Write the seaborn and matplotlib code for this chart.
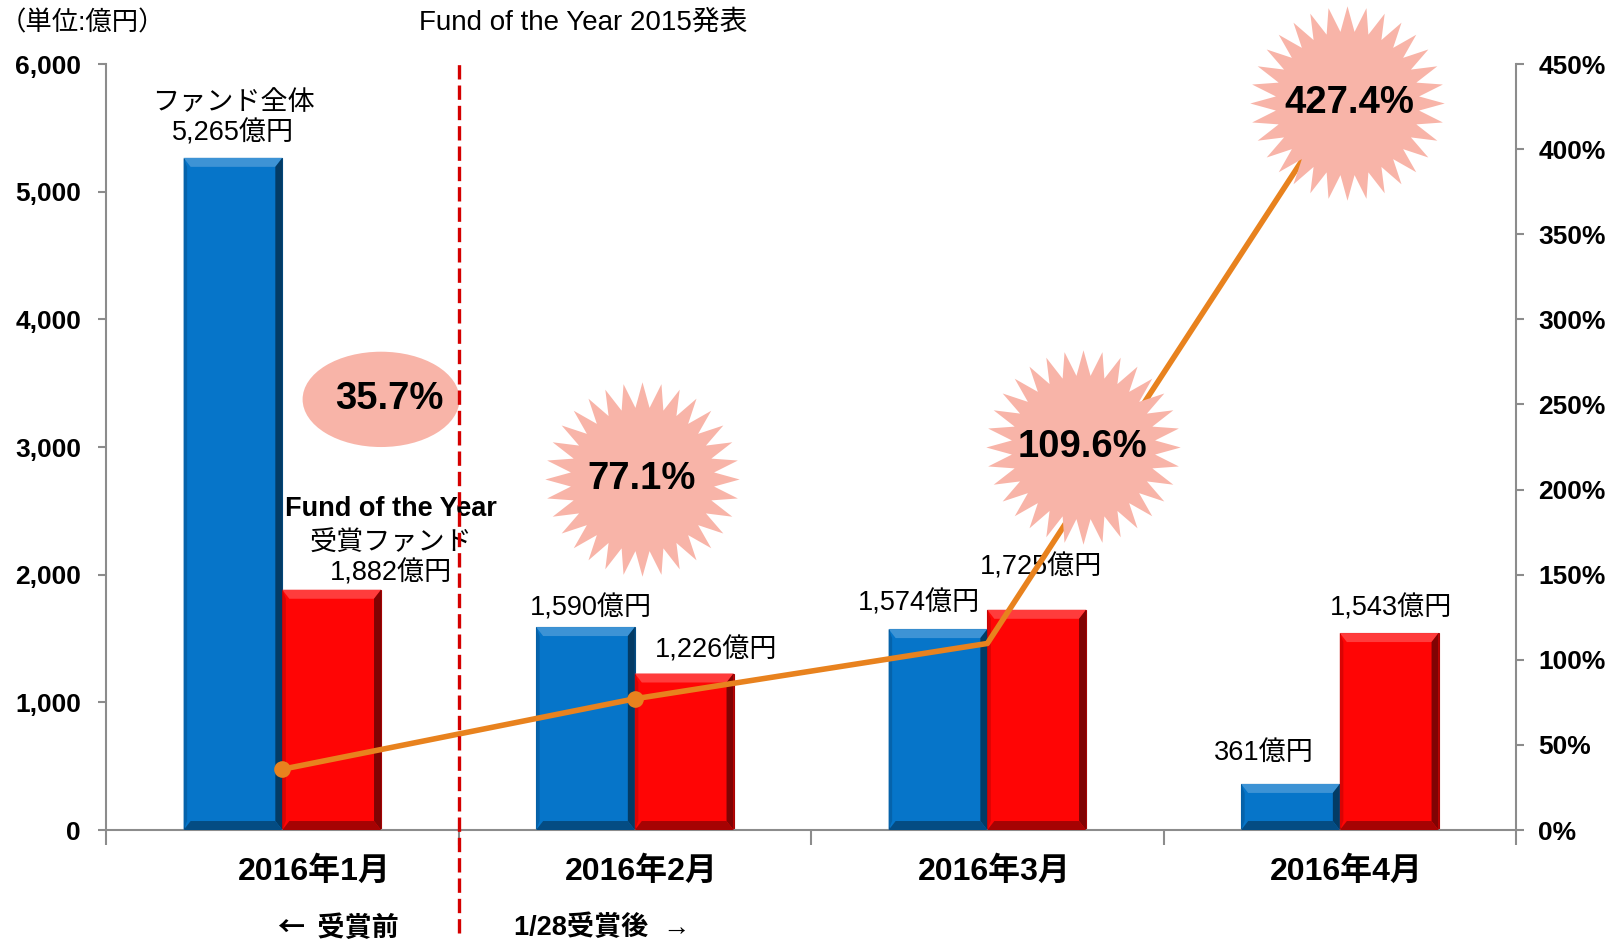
import numpy as np
import pandas as pd
import matplotlib
matplotlib.use('Agg')
import matplotlib.pyplot as plt
from matplotlib.patches import Ellipse, Polygon
from matplotlib.path import Path
from matplotlib.colors import to_rgb
from matplotlib.transforms import ScaledTranslation
import seaborn as sns

# data
months = ['2016年1月', '2016年2月', '2016年3月', '2016年4月']
series_names = ['ファンド全体', 'Fund of the Year受賞ファンド']
total_fund = [5265, 1590, 1574, 361]
award_fund = [1882, 1226, 1725, 1543]
ratio_pct = [35.7, 77.1, 109.6, 427.4]
left_ticks = [0, 1000, 2000, 3000, 4000, 5000, 6000]
right_ticks = [0, 50, 100, 150, 200, 250, 300, 350, 400, 450]

# layout (label offsets in points, badge centres in line-axis coords)
total_dx = [0, 4, -14, -19]
total_dy = [8, 4, 9, 13]
award_dx = [43, 23, 3, 1]
award_dy = [2, 7, 21, 8]
badge_pos = [(0.28, 253), (1.02, 206), (2.27, 225), (3.02, 427)]
badge_text_dx = [6, 0, 0, 2]
month_label_dx = [23, 5, 5, 5]

BLUE = '#0675C9'
RED = '#FF0505'
ORANGE = '#E8821E'
PINK = '#F8B4A8'
GRAY = '#8C8C8C'

sns.set_style('white')
plt.rcParams['font.family'] = ['Liberation Sans', 'Noto Sans CJK JP']
plt.rcParams['text.color'] = 'black'

df = pd.DataFrame({
    'month': months * 2,
    'series': [series_names[0]] * len(months) + [series_names[1]] * len(months),
    'value': total_fund + award_fund,
})

fig = plt.figure(figsize=(16.17, 9.43), dpi=100)
ax = fig.add_axes([0.0656, 0.1198, 0.872, 0.8123])

sns.barplot(data=df, x='month', y='value', hue='series', palette=[BLUE, RED],
            width=0.56, saturation=1, legend=False, ax=ax)
ax.set_xlim(-0.5, len(months) - 0.5)
ax.set_ylim(0, 6000)
bars = list(ax.patches)


def shade(c, amt):
    r = np.array(to_rgb(c))
    if amt > 0:
        return tuple(r + (1 - r) * amt)
    return tuple(r * (1 + amt))


# bevel look on the bars
px_x = (ax.get_xlim()[1] - ax.get_xlim()[0]) / ax.bbox.width
px_y = (ax.get_ylim()[1] - ax.get_ylim()[0]) / ax.bbox.height
bx, by = 7 * px_x, 9 * px_y
for p in bars:
    x0, w, h = p.get_x(), p.get_width(), p.get_height()
    fc = p.get_facecolor()
    p.set_edgecolor(shade(fc, -0.35))
    p.set_linewidth(0.8)
    ax.add_patch(Polygon([(x0, h), (x0 + w, h), (x0 + w - bx, h - by), (x0 + bx, h - by)],
                         closed=True, color=shade(fc, 0.22), lw=0, zorder=3))
    ax.add_patch(Polygon([(x0 + w, h), (x0 + w, 0), (x0 + w - bx, by), (x0 + w - bx, h - by)],
                         closed=True, color=shade(fc, -0.5), lw=0, zorder=3))
    ax.add_patch(Polygon([(x0, 0), (x0 + w, 0), (x0 + w - bx, by), (x0 + bx, by)],
                         closed=True, color=shade(fc, -0.35), lw=0, zorder=3))
    ax.add_patch(Polygon([(x0, h), (x0, 0), (x0 + bx * 0.5, by), (x0 + bx * 0.5, h - by)],
                         closed=True, color=shade(fc, -0.15), lw=0, zorder=3))

# value labels
n = len(months)
for i in range(n):
    pb, pr = bars[i], bars[n + i]
    txt = f'{total_fund[i]:,}億円'
    if i == 0:
        txt = 'ファンド全体\n' + txt
    ax.annotate(txt, (pb.get_x() + pb.get_width() / 2, total_fund[i]),
                xytext=(total_dx[i], total_dy[i]), textcoords='offset points',
                ha='center', va='bottom', fontsize=19.5, linespacing=1.2, zorder=5)
    txt = f'{award_fund[i]:,}億円'
    if i == 0:
        txt = '受賞ファンド\n' + txt
    ax.annotate(txt, (pr.get_x() + pr.get_width() / 2, award_fund[i]),
                xytext=(award_dx[i], award_dy[i]), textcoords='offset points',
                ha='center', va='bottom', fontsize=19.5, linespacing=1.2, zorder=5)
    if i == 0:
        ax.annotate('Fund of the Year', (pr.get_x() + pr.get_width() / 2, award_fund[i]),
                    xytext=(award_dx[i], award_dy[i] + 47), textcoords='offset points',
                    ha='center', va='bottom', fontsize=19.5, fontweight='bold', zorder=5)

# ratio line on the right axis
ax2 = ax.twinx()
sns.lineplot(x=np.arange(n), y=ratio_pct, color=ORANGE, lw=4, marker='o',
             markersize=12, markeredgewidth=0, markevery=[0, 1], ax=ax2, zorder=2)
ax2.set_ylim(0, 450)
ax2.set_xlim(-0.5, n - 0.5)


def star_path(points=32, inner=0.74):
    ang = np.linspace(0, 2 * np.pi, 2 * points, endpoint=False) + np.pi / 2
    r = np.where(np.arange(2 * points) % 2 == 0, 1.0, inner)
    verts = np.column_stack([r * np.cos(ang), r * np.sin(ang)])
    verts = np.vstack([verts, verts[:1]])
    codes = [Path.MOVETO] + [Path.LINETO] * (2 * points - 1) + [Path.CLOSEPOLY]
    return Path(verts, codes)


star = star_path()
for k, (bx_, by_) in enumerate(badge_pos):
    if k == 0:
        ax2.add_patch(Ellipse((bx_, by_), width=0.445, height=56, color=PINK, lw=0, zorder=3))
    else:
        ax2.scatter([bx_], [by_], marker=star, s=140 ** 2, color=PINK, linewidths=0,
                    zorder=3, clip_on=False)
    ax2.annotate(f'{ratio_pct[k]}%', (bx_, by_), xytext=(badge_text_dx[k], 0),
                 textcoords='offset points', ha='center', va='center',
                 fontsize=27.5, fontweight='bold', zorder=4)

# dashed separator (award announcement)
ax2.axvline(0.5, ymin=-0.134, ymax=1.005, color='#D40000', lw=2.4,
            ls=(0, (4.3, 1.8)), clip_on=False, zorder=6)

# axes styling
for a in (ax, ax2):
    a.spines['top'].set_visible(False)
    for s in ('left', 'right', 'bottom'):
        a.spines[s].set_color(GRAY)
        a.spines[s].set_linewidth(1.5)
ax.spines['right'].set_visible(False)
ax2.spines['left'].set_visible(False)
ax2.spines['bottom'].set_visible(False)

ax.set_yticks(left_ticks, [f'{v:,}' for v in left_ticks], fontsize=19, fontweight='bold')
ax.tick_params(axis='y', left=True, direction='out', length=6, width=1.5, color=GRAY,
               labelcolor='black', pad=12)
ax2.set_yticks(right_ticks, [f'{v}%' for v in right_ticks], fontsize=19, fontweight='bold')
ax2.tick_params(axis='y', right=True, direction='out', length=6, width=1.5, color=GRAY,
                labelcolor='black', pad=10)

ax.set_xticks(np.arange(n), months, fontsize=23, fontweight='bold')
ax.set_xticks(np.arange(n + 1) - 0.5, minor=True)
ax.tick_params(axis='x', which='major', bottom=True, length=0, pad=19, labelcolor='black')
ax.tick_params(axis='x', which='minor', bottom=True, direction='out', length=11,
               width=1.5, color=GRAY)
ax.set_xlabel('')
ax.set_ylabel('')
ax2.set_ylabel('')
ax.set_xlim(-0.5, n - 0.5)
for lbl, dx in zip(ax.get_xticklabels(), month_label_dx):
    lbl.set_transform(lbl.get_transform() + ScaledTranslation(dx / 72, 0, fig.dpi_scale_trans))

# extra text
fig.text(0 / 1617, 1 - 23 / 943, '（単位:億円）', ha='left', va='center', fontsize=19)
fig.text(583 / 1617, 1 - 23 / 943, 'Fund of the Year 2015発表', ha='center', va='center', fontsize=20)
fig.text(338 / 1617, 1 - 928 / 943, '←  受賞前', ha='center', va='center', fontsize=19.5,
         fontweight='bold', family=['Noto Sans CJK JP', 'Liberation Sans'])
fig.text(602 / 1617, 1 - 928 / 943, '1/28受賞後  →', ha='center', va='center', fontsize=19.5,
         fontweight='bold')

fig.savefig('out.png', dpi=100)
